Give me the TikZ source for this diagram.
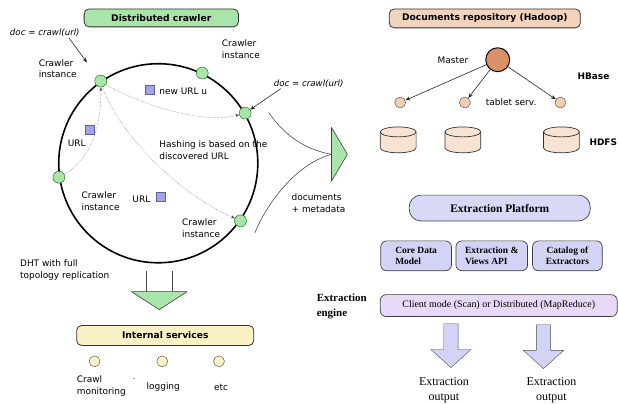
\documentclass[tikz,border=0pt]{standalone}
\usepackage{fontspec}
\setmainfont{Liberation Serif}
\setsansfont{DejaVu Sans}
\usepackage{xcolor}
\usepackage{tikz}
\usetikzlibrary{arrows.meta,positioning,shapes.geometric,shapes.arrows,calc}

\definecolor{crgreen}{HTML}{A9E4A9}
\definecolor{urlblue}{HTML}{A3A3F2}
\definecolor{svcyellow}{HTML}{FBF1C6}
\definecolor{repo}{HTML}{F2D3BE}
\definecolor{master}{HTML}{DA9168}
\definecolor{tabletc}{HTML}{F1CDB3}
\definecolor{diskc}{HTML}{F8E3D3}
\definecolor{platc}{HTML}{D8D8F7}
\definecolor{modc}{HTML}{D3D3F5}
\definecolor{enginec}{HTML}{E7D9F7}

\begin{document}
\begin{tikzpicture}[x=1pt, y=-1pt, font=\sffamily\fontsize{9}{12}\selectfont, every node/.style={inner sep=1pt}]
        \tikzset{
            title/.style={draw=black!80, line width=0.8pt, rounded corners=5pt, font=\sffamily\bfseries\fontsize{9.2}{11}\selectfont},
            crawler/.style={circle, draw=green!40!black, fill=crgreen, minimum size=12pt, inner sep=0pt},
            urlbox/.style={draw=urlblue!60!black, fill=urlblue, minimum size=9pt, inner sep=0pt},
            lbl/.style={align=left},
            hop/.style={densely dotted, draw=black!70, -{Stealth[length=4pt,width=3pt]}},
            ptr/.style={-{Stealth[length=5pt,width=4pt]}, line width=0.6pt, draw=black!85},
            tri/.style={draw=black!75, fill=crgreen, line width=0.6pt, line join=round},
            svc/.style={circle, draw=black!75, fill=svcyellow, minimum size=11pt, inner sep=0pt},
            tablet/.style={circle, draw=black!75, fill=tabletc, minimum size=11pt, inner sep=0pt},
            disk/.pic={
                \path[draw=black!80, fill=diskc, line width=0.7pt] (-18,-8) -- (-18,8)
                    arc[start angle=180, end angle=360, x radius=18pt, y radius=5pt] -- (18,-8)
                    arc[start angle=0, end angle=180, x radius=18pt, y radius=5pt] -- cycle;
                \draw[black!80, line width=0.7pt] (-18,-8) arc[start angle=180, end angle=360, x radius=18pt, y radius=5pt];
            },
            xbox/.style={draw=black!75, line width=0.7pt, rounded corners=6pt, align=left, font=\rmfamily\bfseries\fontsize{9.5}{11}\selectfont},
            outarr/.style={single arrow, shape border rotate=270, draw=black!70, fill=modc, inner sep=7pt, single arrow head extend=13pt, single arrow tip angle=96, minimum height=44pt}
        }

        % Distributed crawler
        \node[title, fill=crgreen, minimum width=155pt, minimum height=18pt] (crawl) at (162,18) {Distributed crawler};
        \node[circle, draw, line width=1.6pt, minimum size=200pt] (ring) at (159,164) {};
        \node[crawler] (crA) at (ring.125) {};
        \node[crawler] (crB) at (ring.64) {};
        \node[crawler] (crC) at (ring.30) {};
        \node[crawler] (crD) at (ring.-35) {};
        \node[crawler] (crE) at (ring.188) {};

        \node[font=\sffamily\itshape\fontsize{8.7}{10}\selectfont] (docL) at (45,33) {doc = crawl(url)};
        \node[font=\sffamily\itshape\fontsize{8.7}{10}\selectfont] (docR) at (310,84) {doc = crawl(url)};
        \node[lbl] (ciA) at (58,69) {Crawler\\instance};
        \node[lbl] (ciB) at (242,49) {Crawler\\instance};
        \node[lbl] (ciE) at (101,202) {Crawler\\instance};
        \node[lbl] (ciD) at (202,229) {Crawler\\instance};

        \node[urlbox] (uNew) at (150,90) {};
        \node[anchor=west] (uNewTxt) at (159,92) {new URL u};
        \node[urlbox] (uOld) at (90,130) {};
        \node (uOldTxt) at (77,144) {URL};
        \node[urlbox] (uLow) at (161,198) {};
        \node (uLowTxt) at (142,200) {URL};
        \node[lbl, anchor=west] (hash) at (159,151) {Hashing is based on the\\discovered URL};
        \node[lbl, anchor=west] (dht) at (19,271) {DHT with full\\topology replication};

        \draw[ptr, shorten >=17pt] ([xshift=-12pt]docL.south east) -- (crA);
        \draw[ptr] ([xshift=-28pt]docR.south) -- (crC);
        \draw[hop] (crA) .. controls (130,100) and (200,126) .. (crC);
        \draw[hop] (crA) .. controls (115,125) and (170,190) .. (crD);
        \draw[hop] (crE) .. controls (92,160) and (102,125) .. (crA);

        % handing over to the repository
        \coordinate (dtip) at (333,155);
        \coordinate (upfrom) at (270,113);
        \coordinate (lowfrom) at (256,234);
        \draw[black!80, line width=0.5pt] (upfrom) .. controls (285,135) and (305,150) .. (dtip);
        \draw[black!80, line width=0.5pt] (lowfrom) .. controls (270,200) and (300,164) .. (dtip);
        \draw[tri] (333,128) -- (349,155) -- (333,182) -- cycle;
        \node[lbl] (meta) at (320,204) {documents\\+ metadata};

        % down to internal services
        \draw[black!70, line width=0.6pt] (147,272) -- (147,293) (173,272) -- (173,293);
        \draw[tri] (132,293) -- (188,293) -- (160,311) -- cycle;

        \node[title, fill=svcyellow, minimum width=178pt, minimum height=20pt] (intern) at (166,337) {Internal services};
        \node[svc] (sMon) at (95,363) {};
        \node[svc] (sLog) at (163,363) {};
        \node[svc] (sEtc) at (220,363) {};
        \node[lbl, anchor=west] (tMon) at (76,388) {Crawl\\monitoring};
        \node[font=\sffamily\fontsize{6}{7}\selectfont] (tDash) at (135,381) {-};
        \node (tLog) at (164,389) {logging};
        \node (tEtc) at (222,389) {etc};

        % Documents repository
        \node[title, fill=repo, minimum width=192pt, minimum height=19pt] (repo) at (487,18.5) {Documents repository (Hadoop)};
        \node[circle, draw=black, line width=1pt, fill=master, minimum size=24pt, inner sep=0pt] (mst) at (500,60) {};
        \node (tMst) at (455,61) {Master};
        \node[anchor=west, font=\sffamily\bfseries\fontsize{9}{10}\selectfont] (hbase) at (579,77) {HBase};
        \node[tablet] (tsA) at (402,103) {};
        \node[tablet] (tsB) at (467,103) {};
        \node[tablet] (tsC) at (563,103) {};
        \node[anchor=west] (tTab) at (487,103) {tablet serv.};
        \draw[ptr] (mst) -- (tsA);
        \draw[ptr] (mst) -- (tsB);
        \draw[ptr] (mst) -- (tsC);

        \pic (dkA) at (400,140.5) {disk};
        \pic (dkB) at (465,140.5) {disk};
        \pic (dkC) at (564,140.5) {disk};
        \node[anchor=west, font=\sffamily\bfseries\fontsize{9}{10}\selectfont] (hdfs) at (591,143) {HDFS};

        % Extraction platform
        \node[xbox, fill=platc, rounded corners=12pt, minimum width=182pt, minimum height=26pt, align=center, font=\rmfamily\bfseries\fontsize{11.5}{13}\selectfont] (plat) at (502,209) {Extraction Platform};
        \node[xbox, fill=modc, minimum width=71pt, minimum height=30pt] (core) at (418,257) {Core Data\\Model};
        \node[xbox, fill=modc, minimum width=72pt, minimum height=30pt] (views) at (494,257) {Extraction \&\\Views API};
        \node[xbox, fill=modc, minimum width=70pt, minimum height=30pt, align=center] (catal) at (570,257) {Catalog of\\Extractors};

        \node[lbl, anchor=west, font=\rmfamily\bfseries\fontsize{11}{15}\selectfont] (eng) at (317,308) {Extraction\\engine};
        \node[draw=black!75, line width=0.7pt, rounded corners=6pt, fill=enginec, minimum width=238pt, minimum height=22pt, font=\rmfamily\fontsize{10}{12}\selectfont] (engine) at (501,307) {Client mode (Scan) or Distributed (MapReduce)};

        \node[outarr] (outA) at (453,344) {};
        \node[outarr] (outB) at (546,345) {};
        \node[align=center, font=\rmfamily\fontsize{12}{15}\selectfont] (resA) at (446,392) {Extraction\\output};
        \node[align=center, font=\rmfamily\fontsize{12}{15}\selectfont] (resB) at (554,392) {Extraction\\output};

        \useasboundingbox (0,0) rectangle (618,402);
    \end{tikzpicture}
\end{document}
